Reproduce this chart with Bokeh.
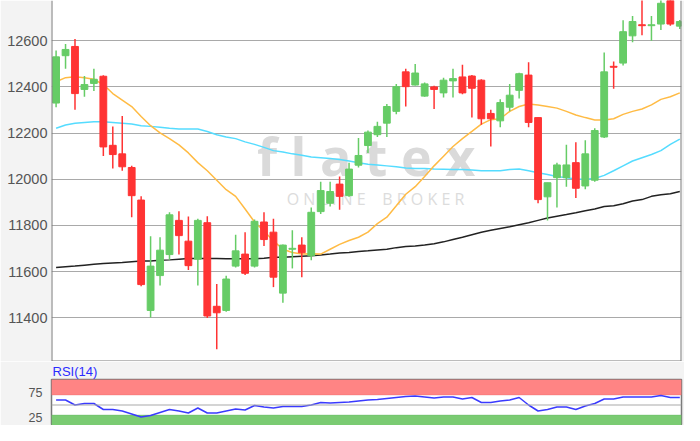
from bokeh.plotting import figure
from bokeh.layouts import column
from bokeh.models import ColumnDataSource, Range1d, FixedTicker, BoxAnnotation, Span, Label
from bokeh.embed import file_html
from bokeh.resources import INLINE

# ---- data ----
opens = [12330, 12535, 12575, 12389, 12415, 12446, 12147, 12110, 12051, 11910,
         11432, 11583, 11674, 11822, 11732, 11654, 11812, 11450, 11432, 11624,
         11676, 11624, 11815, 11771, 11507, 11697, 11715, 11669, 11860, 11896,
         11979, 11929, 12061, 12146, 12193, 12243, 12294, 12465, 12408, 12360,
         12400, 12374, 12426, 12443, 12447, 12429, 12285, 12253, 12312, 12385,
         12451, 12267, 11924, 12007, 12007, 12072, 11971, 11996, 12183, 12489,
         12503, 12621, 12669, 12665, 12672, 12790, 12663]
highs = [12558, 12586, 12607, 12447, 12479, 12450, 12228, 12274, 12058, 11926,
         11753, 11749, 11857, 11861, 11839, 11829, 11840, 11547, 11582, 11760,
         11771, 11826, 11857, 11829, 11718, 11779, 11749, 11878, 11989, 11989,
         12012, 12072, 12179, 12211, 12249, 12326, 12412, 12479, 12499, 12419,
         12405, 12440, 12479, 12496, 12451, 12433, 12301, 12346, 12412, 12461,
         12507, 12267, 11985, 12072, 12149, 12160, 12169, 12221, 12549, 12510,
         12688, 12707, 12800, 12707, 12790, 12810, 12690]
lows = [12312, 12479, 12301, 12357, 12382, 12101, 12047, 12037, 11836, 11537,
        11401, 11540, 11651, 11674, 11607, 11540, 11399, 11264, 11426, 11618,
        11586, 11618, 11711, 11533, 11465, 11614, 11576, 11649, 11850, 11882,
        11868, 11924, 12051, 12114, 12183, 12183, 12281, 12315, 12406, 12357,
        12304, 12354, 12354, 12368, 12267, 12236, 12142, 12225, 12294, 12350,
        12225, 11896, 11822, 11878, 11968, 11919, 11957, 11989, 12179, 12392,
        12493, 12593, 12624, 12600, 12646, 12665, 12651]
closes = [12530, 12562, 12371, 12410, 12433, 12140, 12107, 12054, 11929, 11544,
          11624, 11693, 11846, 11756, 11626, 11822, 11408, 11422, 11568, 11690,
          11593, 11818, 11739, 11576, 11715, 11701, 11682, 11857, 11951, 11947,
          11926, 12044, 12103, 12204, 12229, 12315, 12401, 12401, 12460, 12413,
          12389, 12429, 12436, 12374, 12394, 12262, 12262, 12332, 12364, 12457,
          12246, 11912, 11985, 12062, 12062, 11961, 12110, 12211, 12465, 12485,
          12639, 12683, 12665, 12669, 12762, 12672, 12683]
ma20 = [12422, 12440, 12444, 12440, 12433, 12410, 12371, 12343, 12315, 12272,
        12232, 12201, 12176, 12149, 12114, 12072, 12037, 11996, 11955, 11926,
        11871, 11815, 11776, 11733, 11697, 11683, 11676, 11678, 11676, 11697,
        11718, 11735, 11749, 11771, 11808, 11836, 11885, 11935, 11968, 12012,
        12058, 12100, 12142, 12176, 12207, 12239, 12258, 12262, 12294, 12315,
        12326, 12322, 12315, 12308, 12294, 12278, 12267, 12257, 12257, 12262,
        12281, 12294, 12304, 12322, 12346, 12357, 12374]
ma50 = [12221, 12235, 12243, 12246, 12249, 12249, 12246, 12243, 12239, 12232,
        12229, 12225, 12221, 12218, 12218, 12218, 12207, 12193, 12183, 12176,
        12162, 12151, 12138, 12124, 12118, 12110, 12104, 12096, 12093, 12090,
        12086, 12079, 12072, 12065, 12062, 12058, 12054, 12049, 12047, 12047,
        12044, 12043, 12042, 12042, 12040, 12037, 12037, 12037, 12042, 12044,
        12037, 12028, 12021, 12012, 12007, 12001, 12000, 12003, 12017, 12037,
        12058, 12079, 12093, 12107, 12124, 12151, 12174]
ma200 = [11618, 11621, 11624, 11628, 11632, 11635, 11638, 11640, 11643, 11646,
         11646, 11649, 11651, 11654, 11657, 11657, 11657, 11657, 11656, 11656,
         11656, 11656, 11658, 11662, 11662, 11665, 11667, 11669, 11672, 11676,
         11681, 11683, 11687, 11690, 11694, 11697, 11704, 11709, 11711, 11715,
         11721, 11729, 11739, 11749, 11760, 11771, 11779, 11787, 11794, 11803,
         11812, 11822, 11832, 11840, 11847, 11855, 11864, 11871, 11882, 11885,
         11894, 11906, 11912, 11926, 11933, 11937, 11947]
rsi = [60, 60, 50, 53, 53, 41, 41, 38, 32, 26,
       29, 35, 41, 38, 34, 44, 34, 34, 38, 42,
       40, 49, 46, 44, 47, 47, 47, 50, 55, 54,
       55, 56, 58, 60, 61, 63, 65, 67, 68, 66,
       64, 66, 66, 62, 65, 55, 55, 58, 60, 65,
       50, 38, 41, 46, 46, 41, 48, 53, 62, 62,
       66, 66, 66, 66, 69, 65, 65]
price_ticks = [11400, 11600, 11800, 12000, 12200, 12400, 12600]
rsi_ticks = [25, 75]
rsi_levels = [30, 50, 70]
rsi_title = "RSI(14)"

n = len(closes)
idx = list(range(1, n + 1))
src = ColumnDataSource(dict(
    x=idx, h=highs, l=lows,
    top=[max(o, c) for o, c in zip(opens, closes)],
    bot=[min(o, c) for o, c in zip(opens, closes)],
    color=["#66cc66" if c >= o else "#ff3333" for o, c in zip(opens, closes)],
))

W = 684
BG = "#f3f3f3"
FONT = "Liberation Sans"
BORDER = "#7a7a7a"
xr = Range1d(0.514, 67.18)
yr = Range1d(11211, 12774)

p = figure(width=W, height=361, output_backend="svg", toolbar_location=None,
           x_range=xr, y_range=yr,
           min_border_left=51, min_border_right=3, min_border_top=0, min_border_bottom=0)
p.xaxis.visible = False
p.background_fill_color = "white"
p.border_fill_color = BG
p.outline_line_color = None
p.xgrid.visible = False
p.ygrid.grid_line_color = "#a9a9a9"
p.ygrid.grid_line_width = 1.2
p.yaxis.ticker = FixedTicker(ticks=price_ticks)
p.yaxis.axis_line_color = None
p.yaxis.major_tick_line_color = None
p.yaxis.minor_tick_line_color = None
p.yaxis.major_tick_out = 0
p.yaxis.major_tick_in = 0
p.yaxis.major_label_text_font = FONT
p.yaxis.major_label_text_font_size = "14.5px"
p.yaxis.major_label_text_color = "#555555"
p.yaxis.major_label_standoff = 4

# frame borders: left, right, bottom (top edge is cut off in the reference)
p.add_layout(Span(location=xr.start, dimension="height", line_color=BORDER, line_width=2))
p.add_layout(Span(location=xr.end, dimension="height", line_color=BORDER, line_width=2))
p.add_layout(Span(location=yr.start, dimension="width", line_color=BORDER, line_width=2))

# watermark
NB = "\u00a0"
broker = " ".join("ONLINE") + NB * 4 + " ".join("BROKER")
p.add_layout(Label(x=33.8, y=12105, text="f l a t e x", text_align="center",
                   text_baseline="middle", text_font="Open Sans", text_font_style="bold",
                   text_font_size="52px", text_color="#dadada", level="underlay"))
p.add_layout(Label(x=34.8, y=11915, text=broker, text_align="center",
                   text_baseline="middle", text_font="Open Sans",
                   text_font_size="16px", text_color="#dcdcdc", level="underlay"))

p.line(idx, ma200, line_color="#222222", line_width=1.5)
p.line(idx, ma50, line_color="#55dcff", line_width=1.5)
p.line(idx, ma20, line_color="#ffbb44", line_width=1.5)
p.segment(x0="x", y0="l", x1="x", y1="h", color="color", line_width=1.5, source=src)
p.vbar(x="x", width=0.72, top="top", bottom="bot", fill_color="color",
       line_color="color", line_width=1, source=src)

r = figure(width=W, height=64, output_backend="svg", toolbar_location=None,
           x_range=xr, y_range=Range1d(9, 101), title=rsi_title,
           min_border_left=51, min_border_right=3, min_border_top=17, min_border_bottom=0)
r.title.text_color = "#2b2bff"
r.title.text_font = FONT
r.title.text_font_size = "13px"
r.title.text_font_style = "normal"
r.title.standoff = 1
r.title.offset = 1
r.xaxis.visible = False
r.background_fill_color = "white"
r.border_fill_color = BG
r.outline_line_color = BORDER
r.outline_line_width = 1.5
r.xgrid.visible = False
r.ygrid.visible = False
r.yaxis.ticker = FixedTicker(ticks=rsi_ticks)
r.yaxis.axis_line_color = None
r.yaxis.major_tick_line_color = None
r.yaxis.minor_tick_line_color = None
r.yaxis.major_tick_out = 0
r.yaxis.major_tick_in = 0
r.yaxis.major_label_text_font = FONT
r.yaxis.major_label_text_font_size = "12.5px"
r.yaxis.major_label_text_color = "#555555"
r.yaxis.major_label_standoff = 9

r.add_layout(BoxAnnotation(bottom=rsi_levels[2], fill_color="#ff8484", fill_alpha=1,
                           line_color="#e06060", line_width=1, level="underlay"))
r.add_layout(BoxAnnotation(top=rsi_levels[0], fill_color="#7acb72", fill_alpha=1,
                           line_color="#5aae55", line_width=1, level="underlay"))
r.add_layout(Span(location=rsi_levels[1], dimension="width", line_color="#a9a9a9",
                  line_width=1.2))
r.line(idx, rsi, line_color="#3a3aff", line_width=1.5)

layout = column(p, r, spacing=0)
open("out.html", "w").write(file_html(layout, INLINE))
